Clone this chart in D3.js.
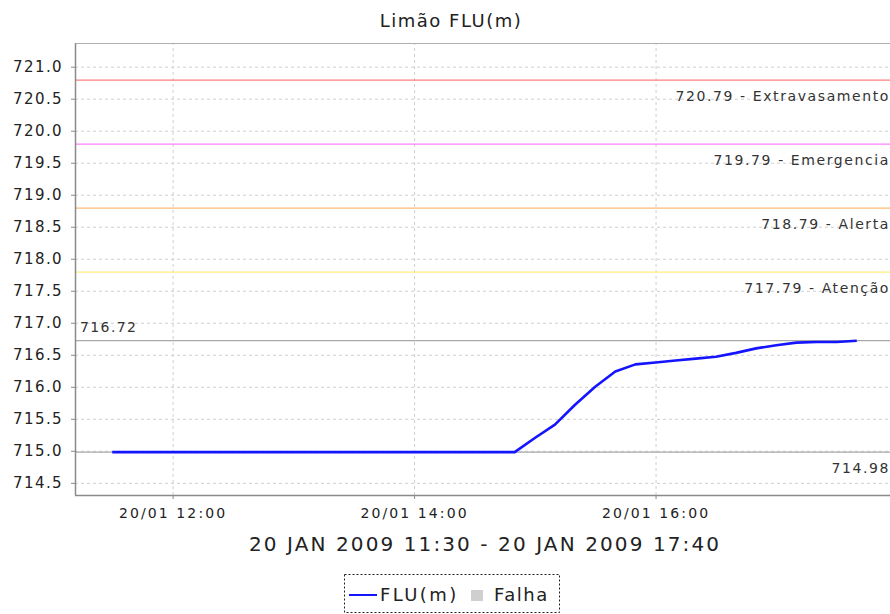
<!DOCTYPE html>
<html>
<head>
<meta charset="utf-8">
<script src="https://d3js.org/d3.v7.min.js"></script>
<style>
    body { margin: 0; background: #fff; }
    text { font-family: "DejaVu Sans", sans-serif; fill: #222; }
    .grid line { stroke: #cfcfcf; stroke-dasharray: 3,3; }
    .grid path { display: none; }
    .axis path, .axis line { stroke: #8a8a8a; }
</style>
</head>
<body>
<div id="chart"></div>
<script>

// reading times (20 JAN 2009) and FLU(m) values
var times = ["11:30","11:40","11:50","12:00","12:10","12:20","12:30","12:40","12:50",
             "13:00","13:10","13:20","13:30","13:40","13:50","14:00","14:10","14:20",
             "14:30","14:40","14:50","15:00","15:10","15:20","15:30","15:40","15:50",
             "16:00","16:10","16:20","16:30","16:40","16:50","17:00","17:10","17:20",
             "17:30","17:40"];
var levels = [714.98,714.98,714.98,714.98,714.98,714.98,714.98,714.98,714.98,
              714.98,714.98,714.98,714.98,714.98,714.98,714.98,714.98,714.98,
              714.98,714.98,714.98,715.20,715.41,715.72,716.00,716.24,716.35,
              716.38,716.41,716.44,716.47,716.53,716.60,716.65,716.69,716.70,
              716.70,716.72];

// alert levels
var thresholdValues = [720.79, 719.79, 718.79, 717.79];
var thresholdNames = ["Extravasamento", "Emergencia", "Alerta", "Atenção"];
var thresholdColors = ["#ff7f7f", "#ff80ff", "#ffb870", "#ffee80"];

var yTicks = [714.5, 715.0, 715.5, 716.0, 716.5, 717.0, 717.5, 718.0, 718.5, 719.0, 719.5, 720.0, 720.5, 721.0];
var yDomain = [714.31, 721.37];
var xDomain = ["20/01/2009 11:11:30", "20/01/2009 17:58:30"];

/**
 * Constructor for the level chart
 */
function LevelChart(){
    var self = this;
    self.init();
};

/**
 * Creates the svg and the scales
 */
LevelChart.prototype.init = function(){
    var self = this;
    self.width = 890;
    self.height = 614;
    self.plot = {left: 75, right: 894, top: 43, bottom: 495};

    self.svg = d3.select("#chart").append("svg")
        .attr("width", self.width)
        .attr("height", self.height);

    var parseFull = d3.timeParse("%d/%m/%Y %H:%M:%S");
    self.x = d3.scaleTime()
        .domain(xDomain.map(parseFull))
        .range([self.plot.left, self.plot.right]);
    self.y = d3.scaleLinear()
        .domain(yDomain)
        .range([self.plot.bottom, self.plot.top]);
};

LevelChart.prototype.update = function(){
    var self = this;
    var p = self.plot;
    var parseTime = d3.timeParse("%d/%m/%Y %H:%M");
    var data = times.map(function(t, i){
        return {date: parseTime("20/01/2009 " + t), value: levels[i]};
    });

    //title
    self.svg.append("text")
        .attr("x", 451)
        .attr("y", 27)
        .attr("text-anchor", "middle")
        .style("font-size", "18px")
        .style("letter-spacing", "1.5px")
        .text("Limão FLU(m)");

    var xTickValues = d3.timeHour.every(2).range(self.x.domain()[0], self.x.domain()[1]);

    //dashed grid
    self.svg.append("g")
        .attr("class", "grid")
        .attr("transform", "translate(" + p.left + ",0)")
        .call(d3.axisLeft(self.y).tickValues(yTicks).tickSize(-(p.right - p.left)).tickFormat(""));
    self.svg.append("g")
        .attr("class", "grid")
        .attr("transform", "translate(0," + p.bottom + ")")
        .call(d3.axisBottom(self.x).tickValues(xTickValues).tickSize(-(p.bottom - p.top)).tickFormat(""));

    //top border
    self.svg.append("line")
        .attr("x1", p.left).attr("x2", p.right)
        .attr("y1", p.top + 0.5).attr("y2", p.top + 0.5)
        .style("stroke", "#b0b0b0");

    //alert lines and labels
    thresholdValues.forEach(function(v, i){
        self.svg.append("line")
            .attr("x1", p.left).attr("x2", p.right)
            .attr("y1", self.y(v)).attr("y2", self.y(v))
            .style("stroke", thresholdColors[i])
            .style("stroke-width", 1.3);
        self.svg.append("text")
            .attr("x", 890)
            .attr("y", self.y(v) + 21)
            .attr("text-anchor", "end")
            .style("font-size", "14px")
            .style("letter-spacing", "1.6px")
            .style("fill", "#333")
            .text(v.toFixed(2) + " - " + thresholdNames[i]);
    });

    //max and min lines
    var maxValue = d3.max(levels), minValue = d3.min(levels);
    [maxValue, minValue].forEach(function(v){
        self.svg.append("line")
            .attr("x1", p.left).attr("x2", p.right)
            .attr("y1", self.y(v)).attr("y2", self.y(v))
            .style("stroke", "#a8a8a8")
            .style("stroke-width", 1.2);
    });
    self.svg.append("text")
        .attr("x", 80)
        .attr("y", self.y(maxValue) - 9)
        .style("font-size", "14px")
        .style("letter-spacing", "1.4px")
        .style("fill", "#333")
        .text(maxValue.toFixed(2));
    self.svg.append("text")
        .attr("x", 890)
        .attr("y", self.y(minValue) + 21)
        .attr("text-anchor", "end")
        .style("font-size", "14px")
        .style("letter-spacing", "1.6px")
        .style("fill", "#333")
        .text(minValue.toFixed(2));

    //series line
    var line = d3.line()
        .x(function(d){ return self.x(d.date); })
        .y(function(d){ return self.y(d.value); });
    self.svg.append("path")
        .datum(data)
        .attr("d", line)
        .style("fill", "none")
        .style("stroke", "#1414ff")
        .style("stroke-width", 2.6)
        .style("stroke-linejoin", "round");

    //axes
    var yAxis = self.svg.append("g")
        .attr("class", "axis")
        .attr("transform", "translate(" + p.left + ",0)")
        .call(d3.axisLeft(self.y).tickValues(yTicks).tickSize(4).tickPadding(8).tickFormat(d3.format(".1f")));
    yAxis.select(".domain").attr("d", "M0.5," + p.top + "V" + (p.bottom + 0.5)).style("stroke-width", 1.5);
    yAxis.selectAll("text")
        .style("font-size", "15px")
        .style("letter-spacing", "1.4px")
        .style("fill", "#222");

    var xAxis = self.svg.append("g")
        .attr("class", "axis")
        .attr("transform", "translate(0," + p.bottom + ")")
        .call(d3.axisBottom(self.x).tickValues(xTickValues).tickSize(4).tickPadding(9).tickFormat(d3.timeFormat("%d/%m %H:%M")));
    xAxis.select(".domain").attr("d", "M" + p.left + ",0.5H" + p.right).style("stroke-width", 1.5);
    xAxis.selectAll("text")
        .style("font-size", "14px")
        .style("letter-spacing", "2.1px")
        .style("fill", "#222");

    //axis label
    self.svg.append("text")
        .attr("x", 485)
        .attr("y", 551)
        .attr("text-anchor", "middle")
        .style("font-size", "20px")
        .style("letter-spacing", "2.1px")
        .text("20 JAN 2009 11:30 - 20 JAN 2009 17:40");

    //legend
    var legend = self.svg.append("g").attr("class", "legend");
    legend.append("rect")
        .attr("x", 344.5).attr("y", 574.5)
        .attr("width", 215).attr("height", 38)
        .style("fill", "none")
        .style("stroke", "#222")
        .style("stroke-dasharray", "2,2");
    legend.append("line")
        .attr("x1", 349).attr("x2", 377)
        .attr("y1", 595).attr("y2", 595)
        .style("stroke", "#1414ff")
        .style("stroke-width", 2);
    legend.append("text")
        .attr("x", 380).attr("y", 601)
        .style("font-size", "18px")
        .style("letter-spacing", "2.4px")
        .text("FLU(m)");
    legend.append("rect")
        .attr("x", 471).attr("y", 590)
        .attr("width", 12).attr("height", 11)
        .style("fill", "#cfcfcf");
    legend.append("text")
        .attr("x", 494).attr("y", 601)
        .style("font-size", "18px")
        .style("letter-spacing", "1.5px")
        .text("Falha");
};

var chart = new LevelChart();
chart.update();
</script>
</body>
</html>
